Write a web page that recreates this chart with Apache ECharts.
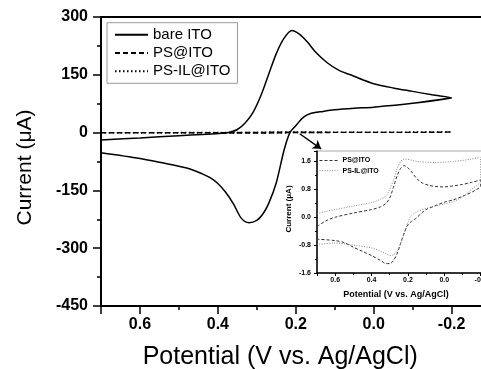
<!DOCTYPE html>
<html>
<head>
<meta charset="utf-8">
<script src="https://cdn.jsdelivr.net/npm/echarts@6/dist/echarts.min.js"></script>
<style>
  html, body { margin: 0; padding: 0; background: #fff; }
  #chart { width: 481px; height: 369px; }
</style>
</head>
<body>
<div id="chart"></div>
<script>
// bare ITO, anodic branch (0.7 -> -0.2 V)
const bareUpV = [0.70, 0.60, 0.50, 0.44, 0.39, 0.37, 0.35, 0.33, 0.31, 0.29, 0.27, 0.25, 0.23, 0.21, 0.19, 0.17, 0.15, 0.12, 0.09, 0.06, 0.03, 0.00, -0.05, -0.10, -0.15, -0.20];
const bareUpI = [-19, -14, -8, -5, -2, 1, 8, 25, 52, 95, 150, 205, 245, 265, 255, 235, 210, 182, 162, 150, 138, 127, 116, 107, 98, 90];
// bare ITO, cathodic branch (-0.2 -> 0.7 V)
const bareDnV = [-0.20, -0.10, 0.00, 0.05, 0.10, 0.13, 0.16, 0.18, 0.20, 0.215, 0.23, 0.25, 0.27, 0.285, 0.30, 0.32, 0.34, 0.36, 0.38, 0.40, 0.42, 0.44, 0.48, 0.55, 0.60, 0.70];
const bareDnI = [89, 76, 66, 63, 59, 55, 50, 40, 18, 0, -45, -130, -185, -212, -228, -234, -222, -185, -155, -132, -117, -107, -92, -77, -67, -52];

// PS@ITO (uA)
const psUpV = [0.70, 0.65, 0.60, 0.50, 0.40, 0.35, 0.32, 0.30, 0.28, 0.26, 0.24, 0.22, 0.20, 0.18, 0.15, 0.12, 0.08, 0.04, 0.00, -0.05, -0.10, -0.15, -0.20];
const psUpI = [-0.27, -0.10, 0.00, 0.12, 0.22, 0.30, 0.40, 0.55, 0.85, 1.18, 1.40, 1.48, 1.42, 1.30, 1.10, 0.98, 0.91, 0.88, 0.87, 0.90, 0.94, 1.00, 1.07];
const psDnV = [-0.20, -0.17, -0.10, -0.05, 0.00, 0.05, 0.10, 0.12, 0.16, 0.18, 0.20, 0.22, 0.24, 0.26, 0.28, 0.30, 0.32, 0.35, 0.40, 0.45, 0.50, 0.55, 0.60, 0.70];
const psDnI = [0.90, 0.77, 0.60, 0.50, 0.43, 0.33, 0.22, 0.14, -0.05, -0.12, -0.22, -0.45, -0.75, -1.05, -1.25, -1.33, -1.33, -1.24, -1.10, -0.98, -0.86, -0.73, -0.67, -0.63];

// PS-IL@ITO (uA)
const psilUpV = [0.70, 0.65, 0.60, 0.50, 0.40, 0.35, 0.32, 0.30, 0.28, 0.26, 0.24, 0.22, 0.20, 0.15, 0.10, 0.05, 0.00, -0.05, -0.10, -0.15, -0.20];
const psilUpI = [0.10, 0.17, 0.22, 0.32, 0.42, 0.52, 0.62, 0.80, 1.05, 1.38, 1.60, 1.67, 1.66, 1.60, 1.58, 1.57, 1.58, 1.60, 1.63, 1.67, 1.72];
const psilDnV = [-0.20, -0.15, -0.10, -0.05, 0.00, 0.05, 0.10, 0.15, 0.18, 0.20, 0.22, 0.24, 0.26, 0.28, 0.30, 0.32, 0.36, 0.40, 0.50, 0.60, 0.70];
const psilDnI = [1.05, 0.80, 0.58, 0.45, 0.38, 0.32, 0.25, 0.16, 0.05, -0.15, -0.45, -0.75, -0.98, -1.08, -1.10, -1.05, -0.95, -0.88, -0.80, -0.74, -0.78];

// arrow pointing to the inset (main axes coords)
const arrowFrom = [0.19, -3];
const arrowTo = [0.135, -42];

const font = 'Liberation Sans, Arial, sans-serif';

function pairs(v, i) {
  return v.map((x, k) => [x, i[k]]);
}
const bareData = pairs(bareUpV, bareUpI).concat(pairs(bareDnV, bareDnI));
const psData = pairs(psUpV, psUpI).concat(pairs(psDnV, psDnI));
const psilData = pairs(psilUpV, psilUpI).concat(pairs(psilDnV, psilDnI));

const fmt = v => v.toFixed(1);

const chart = echarts.init(document.getElementById('chart'));
chart.setOption({
  animation: false,
  textStyle: { fontFamily: font },
  grid: [
    { left: 101, top: 17, right: -48.5, bottom: 63, outerBoundsMode: 'none', show: true, borderColor: '#000', borderWidth: 2 },
    { left: 317, top: 151, right: -36, bottom: 96, outerBoundsMode: 'none', show: true, borderColor: '#aaa', borderWidth: 1, backgroundColor: '#fff' }
  ],
  legend: [
    {
      data: ['bare ITO', 'PS@ITO', 'PS-IL@ITO'],
      orient: 'vertical', left: 107, top: 22.7,
      padding: [4.5, 7, 4.5, 7], itemGap: 3.3, itemWidth: 33, itemHeight: 14,
      borderColor: '#999', borderWidth: 1, selectedMode: false,
      itemStyle: { opacity: 0 },
      textStyle: { fontSize: 15, color: '#000', fontFamily: font }
    },
    {
      data: [
        { name: 'PS@ITO', lineStyle: { color: '#333', width: 1, type: [3, 2] } },
        { name: 'PS-IL@ITO', lineStyle: { color: '#888', width: 1, type: [1, 1.5] } }
      ],
      orient: 'vertical', left: 319, top: 157,
      padding: 0, itemGap: 3.2, itemWidth: 18, itemHeight: 7, selectedMode: false,
      itemStyle: { opacity: 0 },
      textStyle: { fontSize: 7, fontWeight: 'bold', color: '#000', fontFamily: font }
    }
  ],
  xAxis: [
    {
      gridIndex: 0, type: 'value', min: -0.4, max: 0.7, interval: 0.2, inverse: true,
      name: 'Potential (V vs. Ag/AgCl)', nameLocation: 'middle', nameGap: 39,
      nameTextStyle: { fontSize: 25, color: '#000', padding: [0, 70, 0, 0] },
      axisLine: { onZero: false, lineStyle: { color: '#000', width: 2 } },
      axisTick: { length: 8, lineStyle: { color: '#000', width: 1.5 } },
      minorTick: { show: true, splitNumber: 2, length: 4, lineStyle: { color: '#000', width: 1.5 } },
      axisLabel: { showMaxLabel: false, fontSize: 16, fontWeight: 'bold', color: '#000', margin: 11, formatter: fmt },
      splitLine: { show: false }
    },
    {
      gridIndex: 1, type: 'value', min: -0.4, max: 0.7, interval: 0.2, inverse: true,
      name: 'Potential (V vs. Ag/AgCl)', nameLocation: 'middle', nameGap: 17,
      nameTextStyle: { fontSize: 9, fontWeight: 'bold', color: '#000', padding: [0, 42, 0, 0] },
      axisLine: { onZero: false, lineStyle: { color: '#000', width: 1.5 } },
      axisTick: { length: 3, lineStyle: { color: '#000', width: 1 } },
      minorTick: { show: true, splitNumber: 2, length: 2, lineStyle: { color: '#000', width: 1 } },
      axisLabel: { showMaxLabel: false, fontSize: 7, fontWeight: 'bold', color: '#000', margin: 4, formatter: fmt },
      splitLine: { show: false }
    }
  ],
  yAxis: [
    {
      gridIndex: 0, type: 'value', min: -450, max: 300, interval: 150,
      name: 'Current (\u03bcA)', nameLocation: 'middle', nameGap: 65,
      nameTextStyle: { fontSize: 21, color: '#000', padding: [0, 12, 0, 0] },
      axisLine: { onZero: false, lineStyle: { color: '#000', width: 2 } },
      axisTick: { length: 8, lineStyle: { color: '#000', width: 1.5 } },
      minorTick: { show: true, splitNumber: 2, length: 4, lineStyle: { color: '#000', width: 1.5 } },
      axisLabel: { fontSize: 16, fontWeight: 'bold', color: '#000', margin: 13 },
      splitLine: { show: false }
    },
    {
      gridIndex: 1, type: 'value', min: -1.6, max: 1.9, interval: 0.8,
      name: 'Current (\u03bcA)', nameLocation: 'middle', nameGap: 24,
      nameTextStyle: { fontSize: 8, fontWeight: 'bold', color: '#000', padding: [0, 0, 0, 6] },
      axisLine: { onZero: false, lineStyle: { color: '#000', width: 1.5 } },
      axisTick: { length: 3, lineStyle: { color: '#000', width: 1 } },
      minorTick: { show: true, splitNumber: 2, length: 2, lineStyle: { color: '#000', width: 1 } },
      axisLabel: { showMaxLabel: false, fontSize: 7, fontWeight: 'bold', color: '#000', margin: 6, formatter: fmt },
      splitLine: { show: false }
    }
  ],
  series: [
    {
      name: 'bare ITO', type: 'line', xAxisIndex: 0, yAxisIndex: 0,
      data: bareData, symbol: 'none', smooth: 0.3,
      lineStyle: { color: '#000', width: 1.5 },
      markLine: {
        silent: true, symbol: ['none', 'arrow'], symbolSize: 8,
        label: { show: false },
        lineStyle: { color: '#000', width: 1.5, type: 'solid' },
        data: [[{ coord: arrowFrom }, { coord: arrowTo }]]
      }
    },
    {
      name: 'PS@ITO', type: 'line', xAxisIndex: 0, yAxisIndex: 0,
      data: psData, symbol: 'none', smooth: 0.3,
      lineStyle: { color: '#000', width: 1.2, type: [5, 3] }
    },
    {
      name: 'PS-IL@ITO', type: 'line', xAxisIndex: 0, yAxisIndex: 0,
      data: psilData, symbol: 'none', smooth: 0.3,
      lineStyle: { color: '#000', width: 1.2, type: [1.5, 2.5] }
    },
    {
      name: 'PS@ITO', type: 'line', xAxisIndex: 1, yAxisIndex: 1,
      data: psData, symbol: 'none', smooth: 0.3,
      lineStyle: { color: '#333', width: 1, type: [3, 2] }
    },
    {
      name: 'PS-IL@ITO', type: 'line', xAxisIndex: 1, yAxisIndex: 1,
      data: psilData, symbol: 'none', smooth: 0.3,
      lineStyle: { color: '#888', width: 1, type: [1, 1.5] }
    }
  ]
});
</script>
</body>
</html>
